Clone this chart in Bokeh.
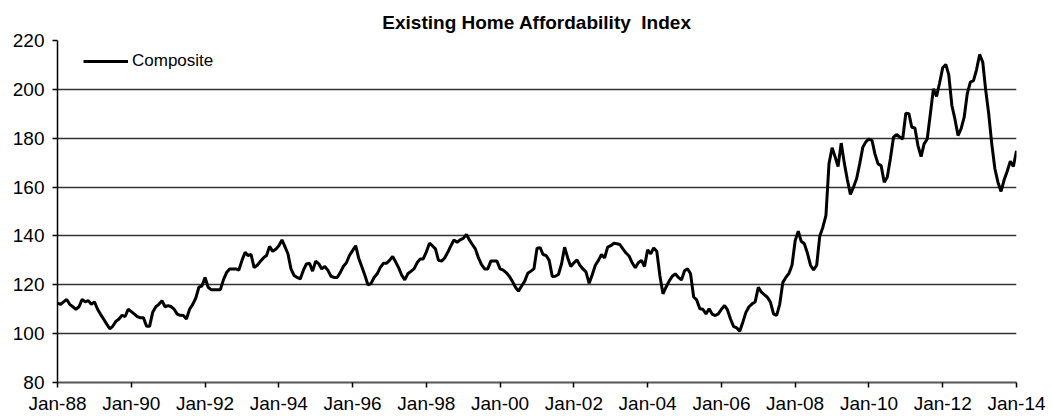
import pandas as pd
from bokeh.plotting import figure
from bokeh.models import ColumnDataSource, Range1d, FixedTicker, DatetimeTickFormatter, Legend, LegendItem
from bokeh.embed import file_html
from bokeh.resources import INLINE

# Monthly composite index, Jan-1988 .. Jan-2014
start_month = "1988-01-01"
composite = [
    112.5, 112, 113, 114, 112, 111, 110, 111, 114, 113, 113.5, 112,
    113, 110, 108, 106, 104, 102, 103, 105, 106, 107.5, 107, 110,
    109, 108, 107, 106.5, 106.5, 103, 103, 108.8, 111, 112, 113.5, 111,
    111.5, 111, 110, 108, 107.5, 107.4, 106, 110, 112, 114.5, 119, 119.5,
    123, 119, 118, 118, 118, 118, 122, 125, 126.5, 126.5, 126.5, 126,
    130, 133.3, 132, 132.4, 127, 128, 129.5, 131, 132, 135.7, 133.7, 134.5,
    136, 138.4, 135.7, 132.7, 126.5, 123.8, 123, 122.4, 126, 128.5, 128.8, 125.6,
    129.7, 128.6, 126.5, 127.5, 126, 123.5, 123, 123, 125, 127.5, 129, 132,
    134, 136, 131, 127.5, 124, 120, 120.5, 123, 124.5, 127, 128.8, 128.8,
    130, 131.6, 129.5, 127, 124, 122, 124.5, 125.5, 126.5, 129, 130.6, 130.6,
    133.5, 137, 136, 134.7, 130, 129.7, 131, 133.3, 136, 138.4, 137.4, 138.4,
    139, 140.6, 138.5, 136.5, 134.7, 131, 128.3, 126.5, 126.5, 129.7, 129.7, 129.7,
    126.5, 126, 125, 123.5, 121.5, 119, 117.4, 119.5, 121.5, 124.7, 125.6, 126.5,
    135, 135.2, 132.4, 132, 130, 123.4, 123.5, 124.2, 128.6, 135.4, 131, 127.5,
    129, 130.2, 128, 126.5, 125.2, 120.6, 124, 128, 130, 132.4, 131, 135.4,
    136, 137, 136.8, 136.5, 134.7, 133, 131.8, 129, 127, 129, 130, 127.5,
    134.3, 132.7, 135.1, 133.7, 123.8, 116.3, 119, 121.5, 123.5, 124.5, 123, 122,
    125.8, 126.5, 124.5, 115, 113.8, 110.2, 110, 108.1, 110.2, 108, 107.4, 108.1,
    110, 111.5, 109.8, 106, 103, 102.4, 101, 104.7, 108.8, 111, 112.2, 113,
    119, 117, 116, 114.9, 112.9, 108.1, 107.4, 112, 121, 123, 124.7, 128,
    138, 141.9, 137.8, 136.8, 133, 128, 126.1, 127.9, 140, 143.5, 148.4, 169.5,
    176.1, 172.2, 168.4, 178, 170, 163, 157, 160, 163.5, 169.5, 176.3, 178.5,
    179.7, 179, 173.6, 169.5, 168.8, 162, 164, 171.6, 180.4, 181.5, 180.5, 179.7,
    190.2, 190, 184.5, 184.2, 177, 172.5, 177.7, 179.7, 190, 200.2, 197.1, 202.5,
    208.8, 210.2, 206, 193.4, 187.9, 181.1, 183.8, 188.6, 198.4, 203, 203.6, 208,
    214.3, 211.1, 200, 190, 177.7, 167.5, 162, 158.2, 163, 166.5, 170.6, 168.4,
    174.9,
]
title_text = "Existing Home Affordability\u00a0 Index"
tick_years = [1988, 1990, 1992, 1994, 1996, 1998, 2000, 2002, 2004, 2006, 2008, 2010, 2012, 2014]
y_ticks = [80, 100, 120, 140, 160, 180, 200, 220]
grid_values = [100, 120, 140, 160, 180, 200]

dates = pd.date_range(start_month, periods=len(composite), freq="MS")
src = ColumnDataSource(dict(date=dates, value=composite))

FONT = "Liberation Sans"

x0 = pd.Timestamp(f"{tick_years[0]}-01-01")
x1 = pd.Timestamp(f"{tick_years[-1]}-01-01")

p = figure(width=1052, height=416, output_backend="svg", toolbar_location=None,
           x_axis_type="datetime",
           x_range=Range1d(x0, x1),
           y_range=Range1d(y_ticks[0], y_ticks[-1]),
           min_border_left=57, min_border_right=36, min_border_top=40, min_border_bottom=34,
           title=title_text)
p.outline_line_color = None
p.background_fill_color = "white"
p.border_fill_color = "white"

p.title.align = "center"
p.title.text_font = FONT
p.title.text_font_style = "bold"
p.title.text_font_size = "19px"
p.title.text_color = "black"
p.title.standoff = 16

r = p.line("date", "value", source=src, line_color="black", line_width=3)

tick_ms = [pd.Timestamp(f"{y}-01-01").value / 1e6 for y in tick_years]
p.xaxis.ticker = FixedTicker(ticks=tick_ms)
fmt = "%b-%y"
p.xaxis.formatter = DatetimeTickFormatter(years=fmt, months=fmt, days=fmt, hours=fmt,
                                          minutes=fmt, seconds=fmt, milliseconds=fmt,
                                          microseconds=fmt, minsec=fmt, hourmin=fmt)
p.yaxis.ticker = FixedTicker(ticks=y_ticks)

for ax in (p.xaxis[0], p.yaxis[0]):
    ax.major_label_text_font = FONT
    ax.major_label_text_font_size = "19px"
    ax.major_label_text_color = "black"
    ax.minor_tick_line_color = None
    ax.major_tick_in = 0
    ax.major_tick_out = 5
    ax.major_tick_line_color = "black"
    ax.major_tick_line_width = 1.5

p.yaxis.axis_line_color = "black"
p.yaxis.axis_line_width = 1.5
p.yaxis.major_label_standoff = 8
p.xaxis.axis_line_color = "#555555"
p.xaxis.axis_line_width = 2
p.xaxis.major_label_standoff = 5

p.xgrid.grid_line_color = None
p.ygrid.ticker = FixedTicker(ticks=grid_values)
p.ygrid.grid_line_color = "#333333"
p.ygrid.grid_line_width = 1.3

legend = Legend(items=[LegendItem(label="Composite", renderers=[r])],
                location=(26, 311), orientation="vertical")
legend.border_line_color = None
legend.background_fill_alpha = 0
legend.padding = 0
legend.margin = 0
legend.glyph_width = 45
legend.glyph_height = 16
legend.label_height = 16
legend.label_standoff = 4
legend.label_text_font = FONT
legend.label_text_font_size = "17px"
legend.label_text_color = "black"
p.add_layout(legend, "center")

open("out.html", "w").write(file_html(p, INLINE))
